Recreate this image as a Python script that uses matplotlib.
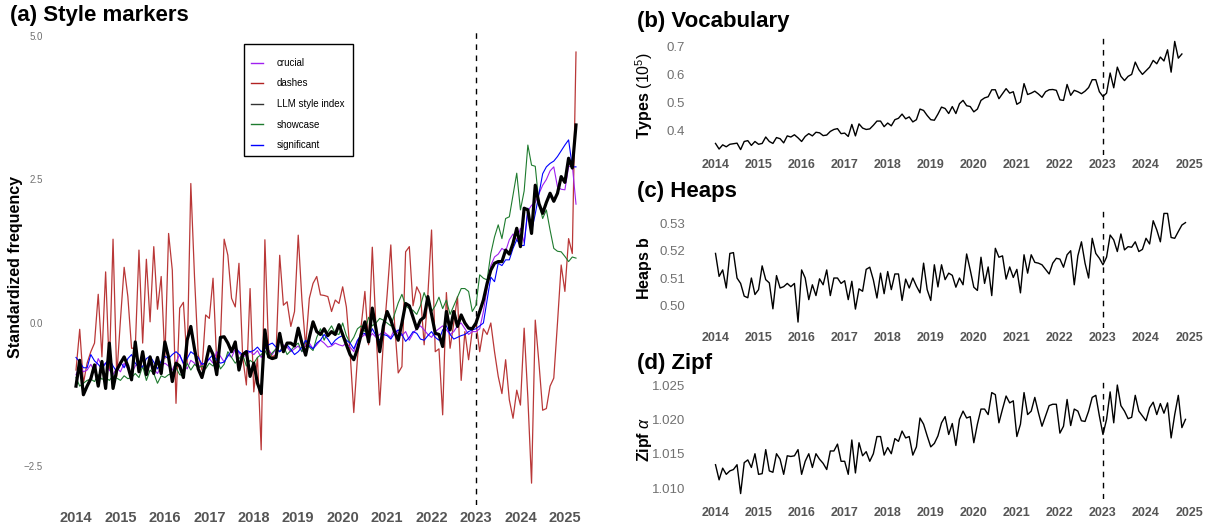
import numpy as np
import matplotlib
matplotlib.use("Agg")
import matplotlib.pyplot as plt
from matplotlib.lines import Line2D
from matplotlib.patches import Rectangle

plt.rcParams['font.family'] = ['Liberation Sans', 'DejaVu Sans']
plt.rcParams['mathtext.fontset'] = 'custom'
plt.rcParams['mathtext.rm'] = 'Liberation Sans'
plt.rcParams['mathtext.bf'] = 'Liberation Sans:bold'
plt.rcParams['mathtext.it'] = 'Liberation Sans:italic'

# ---------------- data ----------------
start_year = 2014
year_ticks = list(range(2014, 2026))
break_year = 2023

series_names = ["crucial", "dashes", "LLM style index", "showcase", "significant"]
series_colors = ["#A020F0", "#B22222", "#000000", "#1E7B2E", "#0000FF"]

crucial = [
    -0.9, -0.75, -0.85, -0.82, -0.72, -0.85, -0.62, -0.75, -0.7, -0.82, -0.9, -0.78,
    -0.85, -0.7, -0.8, -0.88, -0.75, -0.68, -0.78, -0.85, -0.72, -0.8, -0.88, -0.75,
    -0.7, -0.75, -0.82, -0.68, -0.55, -0.72, -0.8, -0.65, -0.7, -0.78, -0.7, -0.72,
    -0.62, -0.7, -0.5, -0.58, -0.68, -0.55, -0.6, -0.45, -0.52, -0.6, -0.55, -0.5,
    -0.55, -0.48, -0.6, -0.42, -0.48, -0.55, -0.45, -0.5, -0.38, -0.42, -0.5, -0.45,
    -0.4, -0.5, -0.38, -0.35, -0.45, -0.38, -0.3, -0.35, -0.42, -0.4, -0.35, -0.38,
    -0.4, -0.35, -0.42, -0.5, -0.3, -0.25, -0.2, -0.28, -0.18, -0.25, -0.2, -0.15,
    -0.2, -0.25, -0.1, -0.18, -0.22, -0.15, -0.3, -0.18, -0.1, -0.05, -0.12, -0.2,
    -0.25, -0.15, -0.1, -0.05, -0.12, -0.2, -0.15, -0.05, 0.0, -0.1, -0.2, -0.15,
    -0.15, -0.1, 0.2, 0.6, 1.0, 1.15, 1.2, 1.3, 1.25, 1.45, 1.55, 1.45,
    1.65, 1.4, 1.95, 2.05, 2.1, 2.25, 2.4, 2.5, 2.65, 2.72, 2.37, 2.33,
    2.32, 2.72, 2.75, 2.07,
]

dashes = [
    -0.82, -0.11, -1.05, -0.7, -0.5, -0.35, 0.5, -0.59, 0.89, -0.82, 1.46, -0.93,
    0.05, 0.97, 0.46, -0.44, -0.44, 1.27, -0.35, 1.11, 0.02, 1.33, 0.24, 0.81,
    -0.62, 1.56, 0.92, -1.4, 0.26, 0.36, -0.7, 2.43, 0.8, -0.55, -0.82, 0.14,
    0.08, 0.78, -0.7, -0.3, 1.46, 1.18, 0.43, 0.28, 1.04, -0.59, -1.08, 0.6,
    -1.2, -0.6, -2.21, 1.45, -0.47, -0.59, -0.55, 1.18, 0.31, 0.37, -0.06, 0.2,
    1.53, 0.4, -0.41, 0.43, 0.69, 0.81, 0.49, 0.48, 0.46, 0.2, 0.4, 0.34,
    0.63, 0.28, -0.5, -1.56, -0.6, -0.05, 0.55, -0.38, 1.32, -0.1, -1.43, -0.3,
    0.49, 1.36, 0.0, -0.87, -0.76, 1.24, 1.33, 0.3, 0.63, 0.5, -0.38, 0.49,
    1.62, -0.5, -0.45, -1.6, 0.53, -0.44, 0.0, 0.46, -1.0, -0.15, -0.64, -0.12,
    0.0, -0.5, -0.1, -0.2, 0.0, -0.5, -0.93, -1.23, -0.64, -1.34, -1.66, -1.17,
    -1.43, -0.09, -1.3, -2.79, 0.05, -0.7, -1.52, -1.49, -1.1, -0.96, 0.0, 1.01,
    0.55, 1.47, 1.21, 4.72,
]

style_index = [
    -1.1, -0.65, -1.25, -1.1, -0.97, -0.73, -1.1, -0.67, -1.14, -0.35, -1.14, -0.82,
    -0.7, -0.59, -0.75, -0.99, -0.33, -0.85, -0.5, -0.9, -0.59, -0.88, -0.6, -0.88,
    -0.33, -0.6, -1.02, -0.7, -0.75, -0.95, -0.3, -0.06, -0.45, -0.8, -0.95, -0.7,
    -0.41, -0.55, -0.9, -0.25, -0.24, -0.35, -0.5, -0.33, -0.82, -0.55, -0.5, -0.93,
    -0.7, -1.05, -1.23, -0.12, -0.59, -0.62, -0.6, -0.18, -0.5, -0.35, -0.35, -0.4,
    -0.09, -0.35, -0.56, -0.25, 0.02, -0.15, -0.2, -0.1, -0.22, -0.15, -0.2, -0.03,
    -0.2, -0.38, -0.55, -0.64, -0.45, -0.2, 0.02, -0.33, 0.26, -0.1, -0.5, -0.05,
    0.2, 0.05, -0.15, -0.3, 0.0, 0.34, 0.3, 0.1, -0.1, 0.05, 0.1, 0.46,
    0.15, -0.18, -0.2, -0.41, 0.2, -0.12, 0.2, -0.06, 0.14, 0.0, -0.09, -0.1,
    0.0, 0.2, 0.4, 0.69, 0.92, 1.04, 1.07, 1.07, 1.27, 1.2, 1.39, 1.65,
    1.33, 2.0, 1.97, 1.56, 2.4, 2.08, 1.91, 2.1, 2.26, 2.12, 2.26, 2.55,
    2.45, 2.87, 2.7, 3.45,
]

showcase = [
    -0.95, -1.1, -1.05, -1.0, -0.98, -1.02, -0.9, -0.98, -0.95, -1.0, -0.92, -0.96,
    -1.0, -0.92, -0.97, -0.95, -0.88, -0.95, -0.75, -1.0, -0.82, -0.88, -1.05, -0.92,
    -0.95, -0.9, -0.88, -0.78, -0.9, -0.92, -0.7, -0.82, -0.72, -0.78, -0.75, -0.8,
    -0.7, -0.75, -0.62, -0.8, -0.72, -0.5, -0.6, -0.7, -0.62, -0.55, -0.75, -0.65,
    -0.7, -0.6, -0.55, -0.48, -0.6, -0.52, -0.45, -0.5, -0.4, -0.55, -0.48, -0.4,
    -0.35, -0.5, -0.3, -0.42, -0.48, -0.25, -0.1, -0.3, -0.15, -0.05, -0.18, -0.2,
    0.0, -0.22, -0.35, -0.25, -0.1, -0.05, -0.15, 0.1, -0.05, 0.0, 0.08, 0.05,
    0.0, -0.05, 0.15, 0.35, 0.5, 0.3, 0.25, 0.22, 0.15, 0.3, 0.53, 0.35,
    0.2, 0.3, 0.45, 0.25, 0.4, 0.15, 0.3, 0.45, 0.6, 0.6, 0.55, 0.2,
    0.31, 0.84, 0.78, 0.75, 1.21, 1.5, 1.71, 1.47, 1.82, 1.85, 2.23, 2.61,
    1.97, 2.3, 3.1, 2.75, 2.73, 2.08, 1.82, 1.97, 1.62, 1.3, 1.25, 1.24,
    1.16, 1.07, 1.15, 1.13,
]

significant = [
    -0.6, -0.68, -0.78, -0.78, -0.55, -0.66, -0.72, -0.8, -0.7, -0.62, -0.75, -0.85,
    -0.68, -0.78, -0.62, -0.55, -0.7, -0.78, -0.76, -0.62, -0.58, -0.68, -0.8, -0.66,
    -0.58, -0.62, -0.55, -0.5, -0.56, -0.7, -0.62, -0.5, -0.55, -0.6, -0.72, -0.7,
    -0.62, -0.55, -0.65, -0.7, -0.68, -0.58, -0.48, -0.42, -0.5, -0.55, -0.48, -0.5,
    -0.48, -0.42, -0.5, -0.45, -0.38, -0.35, -0.42, -0.5, -0.45, -0.38, -0.46, -0.55,
    -0.5, -0.42, -0.3, -0.4, -0.45, -0.35, -0.3, -0.2, -0.28, -0.38, -0.3, -0.25,
    -0.22, -0.3, -0.35, -0.45, -0.3, -0.2, -0.18, -0.25, -0.1, -0.22, -0.3, -0.2,
    -0.22, -0.28, -0.18, -0.12, -0.2, -0.32, -0.25, -0.15, -0.18, -0.28, -0.3, -0.22,
    -0.15, -0.25, -0.3, -0.12, -0.05, -0.2, -0.28, -0.25, -0.22, -0.2, -0.15, -0.12,
    -0.1, -0.05, 0.0, 0.4, 0.8, 0.72, 1.04, 1.0, 1.1, 1.1, 1.3, 1.45,
    1.35, 1.35, 2.0, 1.6, 1.9, 2.25, 2.6, 2.72, 2.78, 2.82, 2.9, 3.0,
    3.1, 3.19, 2.72, 2.72,
]

vocab_types = [
    0.355, 0.335, 0.350, 0.343, 0.352, 0.354, 0.356, 0.333, 0.362, 0.365, 0.348, 0.362,
    0.352, 0.355, 0.378, 0.362, 0.355, 0.376, 0.372, 0.357, 0.382, 0.378, 0.386, 0.375,
    0.362, 0.380, 0.390, 0.382, 0.395, 0.393, 0.383, 0.385, 0.398, 0.405, 0.408, 0.390,
    0.392, 0.380, 0.423, 0.382, 0.425, 0.410, 0.405, 0.407, 0.420, 0.435, 0.435, 0.415,
    0.428, 0.418, 0.440, 0.445, 0.460, 0.443, 0.450, 0.432, 0.440, 0.478, 0.473, 0.455,
    0.440, 0.438, 0.460, 0.485, 0.480, 0.462, 0.487, 0.462, 0.497, 0.509, 0.490, 0.487,
    0.468, 0.478, 0.509, 0.518, 0.522, 0.547, 0.547, 0.515, 0.533, 0.551, 0.535, 0.540,
    0.495, 0.503, 0.569, 0.530, 0.535, 0.542, 0.532, 0.520, 0.540, 0.547, 0.548, 0.545,
    0.511, 0.509, 0.566, 0.527, 0.545, 0.540, 0.533, 0.542, 0.555, 0.583, 0.583, 0.540,
    0.523, 0.535, 0.607, 0.554, 0.628, 0.595, 0.580, 0.595, 0.602, 0.646, 0.619, 0.602,
    0.615, 0.628, 0.652, 0.640, 0.664, 0.650, 0.690, 0.610, 0.720, 0.660, 0.675,
]

heaps_b = [
    0.5191, 0.5106, 0.5130, 0.5063, 0.5191, 0.5194, 0.5100, 0.5080, 0.5033, 0.5027, 0.5100, 0.5039,
    0.5057, 0.5145, 0.5094, 0.5082, 0.4986, 0.5109, 0.5063, 0.5068, 0.5080, 0.5068, 0.5080, 0.4937,
    0.5130, 0.5100, 0.5020, 0.5075, 0.5035, 0.5097, 0.5075, 0.5130, 0.5035, 0.5100, 0.5100, 0.5080,
    0.5090, 0.5020, 0.5088, 0.4985, 0.5060, 0.5051, 0.5132, 0.5140, 0.5093, 0.5026, 0.5118, 0.5042,
    0.5124, 0.5057, 0.5115, 0.5115, 0.5017, 0.5096, 0.5063, 0.5100, 0.5070, 0.5045, 0.5155, 0.5057,
    0.5017, 0.5149, 0.5067, 0.5149, 0.5094, 0.5118, 0.5110, 0.5066, 0.5100, 0.5075, 0.5189, 0.5130,
    0.5066, 0.5054, 0.5177, 0.5080, 0.5141, 0.5035, 0.5210, 0.5177, 0.5182, 0.5096, 0.5141, 0.5102,
    0.5132, 0.5045, 0.5186, 0.5118, 0.5186, 0.5158, 0.5155, 0.5149, 0.5132, 0.5115, 0.5155, 0.5173,
    0.5170, 0.5140, 0.5186, 0.5201, 0.5075, 0.5182, 0.5234, 0.5155, 0.5100, 0.5247, 0.5191, 0.5173,
    0.5149, 0.5177, 0.5259, 0.5241, 0.5198, 0.5263, 0.5204, 0.5216, 0.5214, 0.5234, 0.5198, 0.5206,
    0.5247, 0.5226, 0.5312, 0.5278, 0.5234, 0.5339, 0.5339, 0.5250, 0.5247, 0.5272, 0.5296, 0.5305,
]

zipf_alpha = [
    1.0134, 1.0112, 1.0129, 1.0120, 1.0125, 1.0127, 1.0134, 1.0092, 1.0137, 1.0141, 1.0130, 1.0150,
    1.0120, 1.0121, 1.0156, 1.0125, 1.0123, 1.0150, 1.0142, 1.0120, 1.0147, 1.0146, 1.0147, 1.0156,
    1.0120, 1.0139, 1.0150, 1.0130, 1.0150, 1.0142, 1.0136, 1.0127, 1.0154, 1.0154, 1.0164, 1.0139,
    1.0139, 1.0120, 1.0170, 1.0122, 1.0166, 1.0147, 1.0153, 1.0139, 1.0150, 1.0175, 1.0175, 1.0148,
    1.0159, 1.0150, 1.0172, 1.0168, 1.0183, 1.0173, 1.0175, 1.0148, 1.0160, 1.0202, 1.0193, 1.0176,
    1.0160, 1.0165, 1.0176, 1.0195, 1.0204, 1.0178, 1.0194, 1.0162, 1.0200, 1.0212, 1.0202, 1.0204,
    1.0166, 1.0193, 1.0215, 1.0215, 1.0207, 1.0239, 1.0236, 1.0195, 1.0215, 1.0234, 1.0224, 1.0227,
    1.0175, 1.0193, 1.0239, 1.0207, 1.0212, 1.0232, 1.0210, 1.0190, 1.0205, 1.0220, 1.0222, 1.0222,
    1.0180, 1.0190, 1.0229, 1.0191, 1.0215, 1.0212, 1.0198, 1.0197, 1.0212, 1.0232, 1.0235, 1.0205,
    1.0178, 1.0200, 1.0240, 1.0195, 1.0250, 1.0220, 1.0212, 1.0201, 1.0203, 1.0235, 1.0212, 1.0205,
    1.0198, 1.0217, 1.0225, 1.0207, 1.0223, 1.0209, 1.0224, 1.0173, 1.0207, 1.0235, 1.0188, 1.0200,
]

# ---------------- helpers ----------------
def month_axis(values):
    return start_year + np.arange(len(values)) / 12.0

FIG_W, FIG_H = 1211, 527
def box(l, t, r, b):
    return [l / FIG_W, 1 - b / FIG_H, (r - l) / FIG_W, (b - t) / FIG_H]

XT_COLOR = "#555555"
YT_COLOR = "#707070"

def style_axes(ax, ytick_size, xtick_size, xpad, ypad):
    for s in ax.spines.values():
        s.set_visible(False)
    ax.set_xticks(year_ticks)
    ax.set_xticklabels([str(y) for y in year_ticks], fontweight="bold",
                       color=XT_COLOR, fontsize=xtick_size)
    ax.tick_params(axis="both", length=0)
    ax.tick_params(axis="x", pad=xpad)
    ax.tick_params(axis="y", pad=ypad, labelsize=ytick_size, labelcolor=YT_COLOR)
    ax.grid(False)
    ax.axvline(break_year, color="black", ls=(0, (4, 4)), lw=1.0, zorder=1)

fig = plt.figure(figsize=(FIG_W / 100, FIG_H / 100), dpi=100)

# ---------------- panel (a) ----------------
axA = fig.add_axes(box(51, 30.5, 601, 504.7))
all_series = [crucial, dashes, style_index, showcase, significant]
widths = [0.8, 0.9, 2.3, 0.8, 0.8]
orders = [3, 2, 6, 4, 5]
alphas = [1.0, 0.9, 1.0, 1.0, 1.0]
for vals, col, lw, zo, al in zip(all_series, series_colors, widths, orders, alphas):
    axA.plot(month_axis(vals), vals, color=col, lw=lw, zorder=zo, alpha=al,
             solid_joinstyle="round")
axA.set_yticks([-2.5, 0.0, 2.5, 5.0])
axA.set_yticklabels(["\u22122.5", "0.0", "2.5", "5.0"])
style_axes(axA, ytick_size=7, xtick_size=10.5, xpad=4.5, ypad=6)

# legend: frame drawn as a plain rectangle, entries without frame
fig.patches.append(Rectangle((244 / FIG_W, 1 - 156 / FIG_H), 109 / FIG_W, 112 / FIG_H,
                             transform=fig.transFigure, fill=False,
                             edgecolor="black", lw=1.0, zorder=10))
handles = [Line2D([], [], color=("#333333" if c == "#000000" else c), lw=1.0)
           for c in series_colors]
leg = fig.legend(handles, series_names, loc="upper left",
                 bbox_to_anchor=(251 / FIG_W, 1 - 58 / FIG_H),
                 frameon=False, fontsize=7,
                 labelspacing=1.08, handlelength=1.2, handletextpad=1.45,
                 borderpad=0, borderaxespad=0)

fig.text(10 / FIG_W, 1 - 15 / FIG_H, "(a) Style markers", fontsize=16,
         fontweight="bold", va="center", ha="left")
fig.text(16 / FIG_W, 1 - 267 / FIG_H, "Standardized frequency", fontsize=11.5,
         fontweight="bold", rotation=90, va="center", ha="center")

# ---------------- right panels ----------------
xlim_right = (2013.454, 2025.463)
right_specs = [
    (vocab_types, box(692, 36, 1209, 155), "(b) Vocabulary", 21, 3,
     r"$\mathbf{Types}\ (10^5)$", [0.4, 0.5, 0.6, 0.7], ["0.4", "0.5", "0.6", "0.7"]),
    (heaps_b, box(692, 208, 1209, 327.5), "(c) Heaps", 192, 3,
     r"$\mathbf{Heaps\ b}$", [0.50, 0.51, 0.52, 0.53], ["0.50", "0.51", "0.52", "0.53"]),
    (zipf_alpha, box(692, 379.6, 1209, 499), "(d) Zipf", 363, 5.5,
     r"$\mathbf{Zipf}\ \alpha$", [1.010, 1.015, 1.020, 1.025],
     ["1.010", "1.015", "1.020", "1.025"]),
]
for vals, rect, title, ty, xpad, ylab, yt, ytl in right_specs:
    ax = fig.add_axes(rect)
    ax.plot(month_axis(vals), vals, color="black", lw=1.0)
    ax.set_xlim(*xlim_right)
    ax.set_yticks(yt)
    ax.set_yticklabels(ytl)
    style_axes(ax, ytick_size=9.5, xtick_size=9, xpad=xpad, ypad=5)
    fig.text(637 / FIG_W, 1 - ty / FIG_H, title, fontsize=16, fontweight="bold",
             va="center", ha="left")
    fig.text(644 / FIG_W, rect[1] + rect[3] / 2, ylab, fontsize=11.5,
             rotation=90, va="center", ha="center")

fig.savefig("out.png", dpi=100)
